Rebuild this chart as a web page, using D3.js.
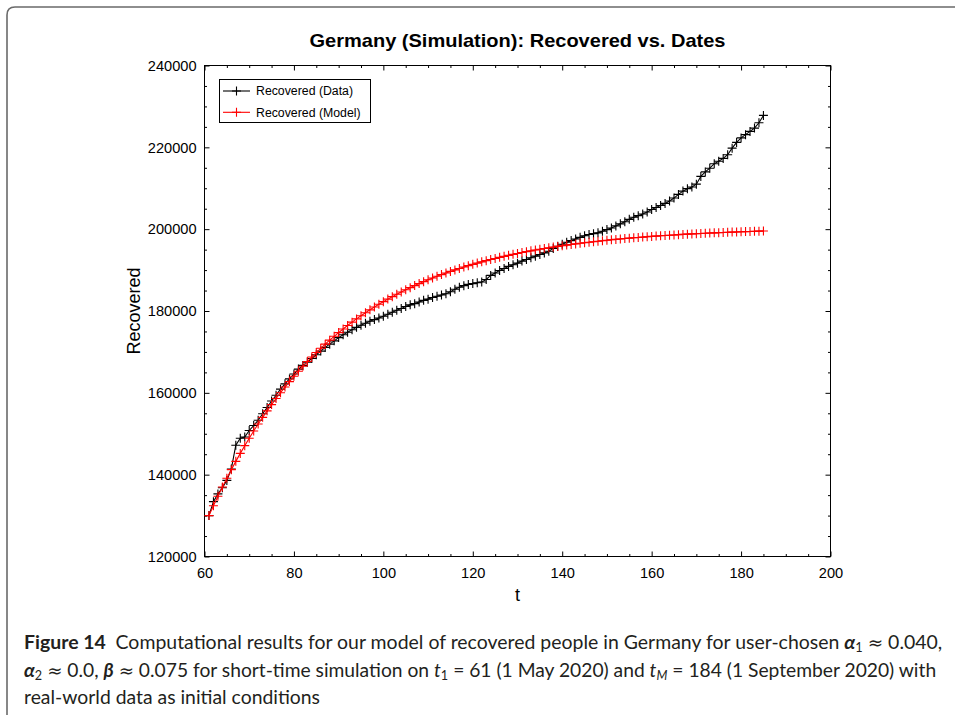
<!DOCTYPE html>
<html><head><meta charset="utf-8">
<script src="https://cdn.jsdelivr.net/npm/d3@7/dist/d3.min.js"></script>
<style>body{margin:0;background:#fff}svg{display:block}</style>
</head><body>
<svg id="c" width="955" height="715"></svg>
<script>
const chartTitle = "Germany (Simulation): Recovered vs. Dates";
const xLabel = "t";
const yLabel = "Recovered";
const xTicks = [60, 80, 100, 120, 140, 160, 180, 200];
const yTicks = [120000, 140000, 160000, 180000, 200000, 220000, 240000];
const seriesNames = ["Recovered (Data)", "Recovered (Model)"];
const days = d3.range(61, 186);
const recoveredData = [
  130000,133400,135300,136800,138600,141400,147200,148900,149200,150800,
  152000,153300,154900,156400,158000,159400,160900,162200,163400,164600,
  165800,166700,167500,168400,169300,170200,171100,171900,172700,173500,
  174200,174800,175400,176000,176500,177000,177500,177900,178300,178700,
  179200,179700,180200,180600,181100,181500,181800,182200,182600,182900,
  183300,183600,183900,184200,184700,185300,185800,186200,186500,186700,
  186900,187100,187700,188700,189300,189900,190400,190900,191300,191700,
  192200,192600,193000,193400,193800,194200,194600,195300,195800,196300,
  196800,197200,197600,198000,198400,198700,198900,199100,199500,199900,
  200300,200800,201300,201800,202400,202900,203300,203700,204200,204800,
  205300,205800,206300,206900,207600,208500,209300,209900,210300,211000,
  212900,214000,214900,216000,216600,217300,218200,219800,221200,222300,
  223100,223900,224700,226000,227800
];
const recoveredModel = [
  130000,132404,134727,136970,139137,141230,143251,145203,147089,148911,
  150670,152370,154011,155597,157128,158607,160036,161416,162749,164037,
  165280,166481,167642,168762,169845,170890,171900,172875,173817,174727,
  175606,176455,177275,178068,178833,179572,180285,180975,181641,182284,
  182905,183505,184085,184645,185185,185708,186212,186700,187170,187625,
  188064,188488,188898,189293,189676,190045,190401,190746,191079,191400,
  191710,192010,192300,192579,192849,193110,193362,193606,193841,194068,
  194287,194499,194704,194902,195093,195277,195455,195627,195793,195954,
  196109,196259,196403,196543,196678,196808,196934,197056,197173,197287,
  197397,197502,197605,197703,197799,197891,197980,198066,198149,198229,
  198307,198381,198454,198523,198591,198656,198719,198780,198838,198895,
  198950,199003,199054,199103,199151,199197,199241,199284,199325,199366,
  199404,199442,199478,199513,199546
];
const seriesColors = ["#000000", "#ff0000"];

const svg = d3.select("#c");
const font = "'Liberation Sans', Arial, Helvetica, sans-serif";

// outer figure border
svg.append("path")
  .attr("d", "M7,715 L7,15 Q7,7 15,7 L960,7")
  .attr("fill", "none").attr("stroke", "#6a6a6a").attr("stroke-width", 1.6);

const L = 204.5, R = 830.5, T = 65.5, B = 556.5;
const x = d3.scaleLinear().domain([60, 200]).range([L, R]);
const y = d3.scaleLinear().domain([120000, 240000]).range([B, T]);

const minorX = d3.range(60, 201, 5).filter(v => !xTicks.includes(v));
const minorY = d3.range(120000, 240001, 5000).filter(v => !yTicks.includes(v));

function styleAxis(g) {
  g.select(".domain").remove();
  g.selectAll("line").attr("stroke", "#000").attr("stroke-width", 1);
  g.selectAll("text").attr("font-family", font).attr("font-size", 14.6).attr("fill", "#000");
}

// bottom
svg.append("g").attr("transform", `translate(0,${B})`)
  .call(d3.axisBottom(x).tickValues(xTicks).tickSizeInner(-5).tickSizeOuter(0).tickPadding(11).tickFormat(d3.format("d")))
  .call(styleAxis);
svg.append("g").attr("transform", `translate(0,${B})`)
  .call(d3.axisBottom(x).tickValues(minorX).tickSizeInner(-2.5).tickSizeOuter(0).tickFormat(""))
  .call(styleAxis);
// top
svg.append("g").attr("transform", `translate(0,${T})`)
  .call(d3.axisTop(x).tickValues(xTicks).tickSizeInner(-5).tickSizeOuter(0).tickFormat(""))
  .call(styleAxis);
svg.append("g").attr("transform", `translate(0,${T})`)
  .call(d3.axisTop(x).tickValues(minorX).tickSizeInner(-2.5).tickSizeOuter(0).tickFormat(""))
  .call(styleAxis);
// left
svg.append("g").attr("transform", `translate(${L},0)`)
  .call(d3.axisLeft(y).tickValues(yTicks).tickSizeInner(-5).tickSizeOuter(0).tickPadding(8).tickFormat(d3.format("d")))
  .call(styleAxis);
svg.append("g").attr("transform", `translate(${L},0)`)
  .call(d3.axisLeft(y).tickValues(minorY).tickSizeInner(-2.5).tickSizeOuter(0).tickFormat(""))
  .call(styleAxis);
// right
svg.append("g").attr("transform", `translate(${R},0)`)
  .call(d3.axisRight(y).tickValues(yTicks).tickSizeInner(-5).tickSizeOuter(0).tickFormat(""))
  .call(styleAxis);
svg.append("g").attr("transform", `translate(${R},0)`)
  .call(d3.axisRight(y).tickValues(minorY).tickSizeInner(-2.5).tickSizeOuter(0).tickFormat(""))
  .call(styleAxis);

// frame
svg.append("rect").attr("x", L).attr("y", T).attr("width", R - L).attr("height", B - T)
  .attr("fill", "none").attr("stroke", "#000").attr("stroke-width", 1);

// series
const plus = "M-4.5,0H4.5M0,-4.5V4.5";
const series = [recoveredData, recoveredModel];
series.forEach((vals, i) => {
  const pts = days.map((d, j) => [d, vals[j]]);
  const g = svg.append("g");
  g.append("path").datum(pts)
    .attr("d", d3.line().x(p => x(p[0])).y(p => y(p[1])))
    .attr("fill", "none").attr("stroke", seriesColors[i]).attr("stroke-width", 1.1);
  g.selectAll("path.m").data(pts).enter().append("path").attr("class", "m")
    .attr("transform", p => `translate(${x(p[0])},${y(p[1])})`)
    .attr("d", plus).attr("fill", "none").attr("stroke", seriesColors[i]).attr("stroke-width", 1.1);
});

// legend
const lg = svg.append("g");
lg.append("rect").attr("x", 219.5).attr("y", 79.5).attr("width", 151).attr("height", 43)
  .attr("fill", "#fff").attr("stroke", "#000").attr("stroke-width", 1);
seriesNames.forEach((name, i) => {
  const yy = 91 + i * 21.3;
  lg.append("line").attr("x1", 223).attr("x2", 250).attr("y1", yy).attr("y2", yy)
    .attr("stroke", seriesColors[i]).attr("stroke-width", 1.1);
  lg.append("path").attr("transform", `translate(236.5,${yy})`).attr("d", plus)
    .attr("fill", "none").attr("stroke", seriesColors[i]).attr("stroke-width", 1.1);
  lg.append("text").attr("x", 256).attr("y", yy + 4.3).text(name)
    .attr("font-family", font).attr("font-size", 12.3).attr("fill", "#000");
});

// title & labels
svg.append("text").attr("x", (L + R) / 2).attr("y", 47).attr("text-anchor", "middle")
  .attr("font-family", font).attr("font-size", 19).attr("font-weight", "bold")
  .attr("textLength", 416).attr("lengthAdjust", "spacingAndGlyphs").text(chartTitle);
svg.append("text").attr("x", (L + R) / 2).attr("y", 601).attr("text-anchor", "middle")
  .attr("font-family", font).attr("font-size", 18).text(xLabel);
svg.append("text").attr("transform", `translate(140,${(T + B) / 2}) rotate(-90)`).attr("text-anchor", "middle")
  .attr("font-family", font).attr("font-size", 18).text(yLabel);

// caption
const capFont = "Lato, 'Liberation Sans', sans-serif";
const approx = {t: "\u2248", f: "'DejaVu Sans'"};
const capLines = [
  {y: 649, target: 919, parts: [
    {t: "Figure 14", w: "bold"}, {t: "\u2002Computational results for our model of recovered people in Germany for user-chosen "},
    {t: "\u03b1", w: "bold", i: true}, {t: "1", sub: true}, {t: " "}, approx, {t: " 0.040,"}]},
  {y: 677, target: 913, parts: [
    {t: "\u03b1", w: "bold", i: true}, {t: "2", sub: true}, {t: " "}, approx, {t: " 0.0, "},
    {t: "\u03b2", w: "bold", i: true}, {t: " "}, approx, {t: " 0.075 for short-time simulation on "},
    {t: "t", i: true}, {t: "1", sub: true}, {t: " = 61 (1 May 2020) and "},
    {t: "t", i: true}, {t: "M", sub: true, i: true}, {t: " = 184 (1 September 2020) with"}]},
  {y: 704, target: null, parts: [{t: "real-world data as initial conditions"}]}
];
const scales = [];
const capNodes = capLines.map(line => {
  const g = svg.append("g");
  const tx = g.append("text").attr("x", 0).attr("y", 0)
    .attr("font-family", capFont).attr("font-size", 19).attr("fill", "#231f20")
    .attr("xml:space", "preserve").style("white-space", "pre");
  line.parts.forEach(p => {
    const ts = tx.append("tspan").text(p.t);
    if (p.w) ts.attr("font-weight", p.w);
    if (p.i) ts.attr("font-style", "italic");
    if (p.f) ts.attr("font-family", p.f).attr("font-size", 18);
    if (p.sub) ts.attr("font-size", 12.5).attr("baseline-shift", "-22%");
  });
  const w = tx.node().getComputedTextLength();
  if (line.target) scales.push(line.target / w);
  return {g, line};
});
const avgS = d3.mean(scales);
capNodes.forEach(({g, line}) => {
  const w = g.select("text").node().getComputedTextLength();
  const s = line.target ? line.target / w : avgS;
  g.attr("transform", `translate(24,${line.y}) scale(${s},1)`);
});
</script>
</body></html>
